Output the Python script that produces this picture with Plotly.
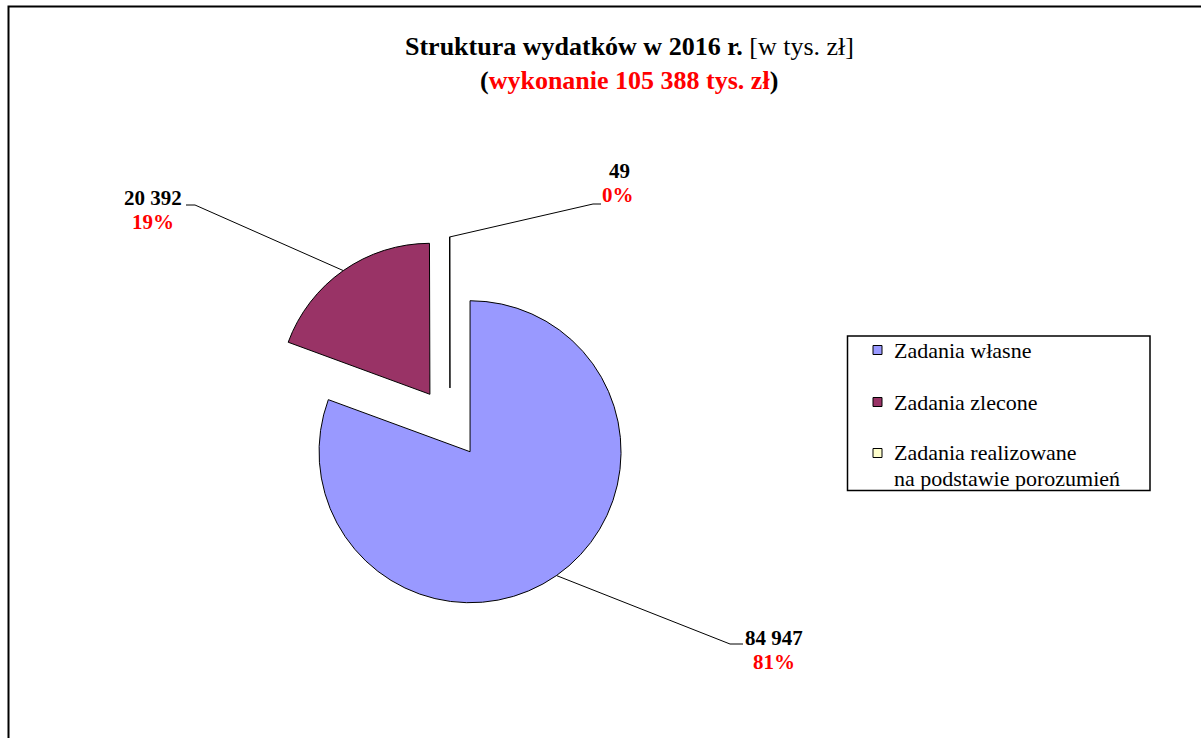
import math
import plotly.graph_objects as go

W, H = 1201, 738

# ---- data ----
categories = ["Zadania własne", "Zadania zlecone", "Zadania realizowane\nna podstawie porozumień"]
values = [84947, 20392, 49]
value_labels = ["84 947", "20 392", "49"]
pct_labels = ["81%", "19%", "0%"]
colors = ["#9999FF", "#993366", "#FFFFCC"]

# ---- layout geometry (pixels in the screenshot) ----
CX, CY = 450, 423          # pie centre
R = 151                    # slice radius
PULL = 0.232               # explosion as fraction of radius
HALF = R * (1 + PULL)      # half-size of pie domain

def px(x):
    return x / W

def py(y):
    return 1 - y / H

fig = go.Figure()
fig.add_trace(go.Pie(
    labels=[c.replace("\n", " ") for c in categories],
    values=values,
    sort=False,
    direction="clockwise",
    rotation=0,
    pull=[PULL] * len(values),
    marker=dict(colors=colors, line=dict(color="#000000", width=1)),
    textinfo="none",
    hoverinfo="label+value+percent",
    showlegend=False,
    domain=dict(x=[px(CX - HALF), px(CX + HALF)], y=[py(CY + HALF), py(CY - HALF)]),
))

shapes = []
annotations = []

# outer frame
shapes.append(dict(type="rect", xref="paper", yref="paper",
                   x0=px(8.5), x1=px(1230), y0=py(6.5), y1=py(780),
                   line=dict(color="#000000", width=2)))

# title
FONT = "Liberation Serif, Times New Roman, serif"
annotations.append(dict(
    text="<b>Struktura wydatków w 2016 r.</b> [w tys. zł]",
    x=px(629), y=py(47), xref="paper", yref="paper", showarrow=False,
    xanchor="center", yanchor="middle", font=dict(family=FONT, size=26, color="#000000")))
annotations.append(dict(
    text="<b>(<span style='color:#FF0000'>wykonanie 105 388 tys. zł</span>)</b>",
    x=px(629), y=py(80), xref="paper", yref="paper", showarrow=False,
    xanchor="center", yanchor="middle", font=dict(family=FONT, size=26, color="#000000")))

# data labels with leader lines (anchor on each slice's arc midpoint)
total = sum(values)
label_pos = [  # (value label centre, pct label centre, elbow, stub end)
    ((774, 638), (774, 662), (730, 644), (743, 644)),
    ((153, 198), (153, 222), (195, 205), (186, 205)),
    ((619, 171), (618, 195), (593, 204), (601, 204)),
]
cum = 0
for i, v in enumerate(values):
    mid = (cum + v / 2) / total * 2 * math.pi
    cum += v
    ax_ = CX + (1 + PULL) * R * math.sin(mid)
    ay_ = CY - (1 + PULL) * R * math.cos(mid)
    (vx, vy), (qx, qy), (ex, ey), (sx, sy) = label_pos[i]
    shapes.append(dict(type="path", xref="paper", yref="paper",
                       path=f"M {px(ax_)},{py(ay_)} L {px(ex)},{py(ey)} L {px(sx)},{py(sy)}",
                       line=dict(color="#000000", width=1)))
    annotations.append(dict(text=f"<b>{value_labels[i]}</b>", x=px(vx), y=py(vy),
                            xref="paper", yref="paper", showarrow=False,
                            xanchor="center", yanchor="middle",
                            font=dict(family=FONT, size=21, color="#000000")))
    annotations.append(dict(text=f"<b>{pct_labels[i]}</b>", x=px(qx), y=py(qy),
                            xref="paper", yref="paper", showarrow=False,
                            xanchor="center", yanchor="middle",
                            font=dict(family=FONT, size=21, color="#FF0000")))

# legend (drawn manually)
shapes.append(dict(type="rect", xref="paper", yref="paper",
                   x0=px(847.5), x1=px(1150), y0=py(336), y1=py(490.5),
                   line=dict(color="#000000", width=1.5)))
leg_rows = [350, 402, 453]
for i, cat in enumerate(categories):
    yc = leg_rows[i]
    shapes.append(dict(type="rect", xref="paper", yref="paper",
                       x0=px(873), x1=px(882), y0=py(yc - 4.5), y1=py(yc + 4.5),
                       fillcolor=colors[i], line=dict(color="#000000", width=1)))
    lines = cat.split("\n")
    for j, t in enumerate(lines):
        annotations.append(dict(text=t, x=px(892), y=py(yc + 25 * j), xref="paper", yref="paper",
                                showarrow=False, xanchor="left", yanchor="middle",
                                font=dict(family=FONT, size=22, color="#000000")))

fig.update_layout(
    width=W, height=H,
    margin=dict(l=0, r=0, t=0, b=0),
    paper_bgcolor="#FFFFFF",
    plot_bgcolor="#FFFFFF",
    shapes=shapes,
    annotations=annotations,
    showlegend=False,
)

fig.write_html("out.html", config={"displayModeBar": False},
               post_script="document.body.style.margin='0';")
